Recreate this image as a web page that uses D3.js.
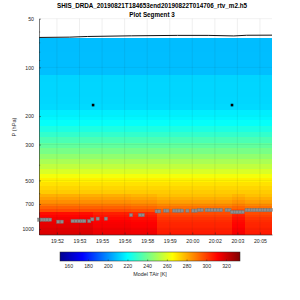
<!DOCTYPE html>
<html>
<head>
<meta charset="utf-8">
<script src="https://cdn.jsdelivr.net/npm/d3@7"></script>
<style>
  body { margin: 0; background: #fff; }
  svg { display: block; font-family: "Liberation Sans", Arial, Helvetica, sans-serif; }
</style>
</head>
<body>
<svg id="chart" width="300" height="300"></svg>
<script>
const TITLE = ['SHIS_DRDA_20190821T184653end20190822T014706_rtv_m2.h5', 'Plot Segment 3'];

// pressure levels (hPa) and temperature (K) of the reference profile
const levels = [66, 75, 85, 95, 105, 117, 130, 145, 160, 175, 190, 205, 220, 240, 260, 282, 305, 330, 355, 380,
    410, 440, 470, 500, 530, 560, 590, 620, 650, 680, 710, 740, 770, 800, 830, 860, 890, 920, 950, 980, 1010, 1040, 1080];
const tBase = [208.3, 208.3, 208.4, 208.5, 208.6, 212.5, 212.7, 212.8, 213, 213.5, 217, 218.5, 221, 225, 229, 233.5, 237.5, 241.5, 246, 250.5,
    254.5, 259, 264, 268, 271, 273, 275, 277, 280, 283, 287, 291, 295, 298, 300, 302, 303.5, 304.5, 305, 305.5, 306, 306.5, 307];

// time bands where the lower layers differ
const bandStarts = ['19:51:00', '19:54:31', '19:56:59', '19:58:40', '20:03:33', '20:04:24'];
const bandEnd = '20:06:09';
const bandMidShift = [3, 3, 2, 0, 2, 0];
const bandLowShift = [11, 8, 7, 0, 6, 0];

// gray markers
const dotTimes = ['19:51:01', '19:51:12', '19:51:22', '19:51:32', '19:51:43', '19:52:15', '19:52:29',
    '19:53:11', '19:53:24', '19:53:37', '19:53:48', '19:53:57', '19:54:16', '19:54:28', '19:54:49', '19:55:21',
    '19:56:59', '19:57:34', '19:57:45', '19:58:39', '19:58:49', '19:59:12', '19:59:21', '19:59:47', '19:59:57',
    '20:00:07', '20:00:18', '20:00:39', '20:01:02', '20:01:13', '20:01:25', '20:01:35', '20:01:54', '20:02:04',
    '20:02:15', '20:02:28', '20:02:40', '20:02:50', '20:03:12', '20:03:23', '20:03:33', '20:03:44', '20:03:54',
    '20:04:04', '20:04:15', '20:04:30', '20:04:40', '20:04:51', '20:05:01', '20:05:12', '20:05:22', '20:05:33',
    '20:05:43', '20:05:54', '20:06:04'];
const dotPressures = [874, 874, 874, 874, 874, 900, 900,
    892, 892, 892, 892, 892, 892, 870, 862, 862,
    819, 819, 819, 777, 777, 769, 769, 769, 769,
    769, 769, 769, 769, 769, 763, 763, 763, 763,
    763, 763, 763, 763, 763, 763, 785, 785, 785,
    785, 785, 763, 763, 763, 763, 763, 763, 763,
    763, 763, 763];

// black markers
const markTimes = ['19:54:31', '20:03:33'];
const markPressures = [171, 171];

// flight level line
const lineTimes = ['19:51:00', '19:53:00', '19:54:10', '19:57:00', '20:00:00', '20:02:00', '20:03:40', '20:04:30', '20:06:09'];
const linePressures = [65.3, 65.0, 64.4, 63.8, 63.4, 63.4, 63.9, 63.3, 63.2];

const xTickTimes = ['19:52:10', '19:53:38', '19:55:06', '19:56:34', '19:58:02', '19:59:30', '20:00:58', '20:02:26', '20:03:54', '20:05:22'];
const yTicks = [50, 100, 200, 300, 500, 700, 1000];
const yMinorTicks = [60, 70, 80, 90, 400, 600, 800, 900];
const cbTicks = [160, 180, 200, 220, 240, 260, 280, 300, 320];
const CB_LABEL = 'Model TAir [K]';
const Y_LABEL = 'P (hPa)';

const AXIS = '#262626';
const parse = d3.timeParse('%H:%M:%S');

const svg = d3.select('#chart');

const x = d3.scaleTime().domain([parse('19:51:00'), parse(bandEnd)]).range([39, 272]);
const y = d3.scaleLog().domain([50, 1080]).range([18.7, 234.5]);

// jet colormap
const jet = d3.scaleLinear()
    .domain([0, 0.125, 0.375, 0.625, 0.875, 1])
    .range(['#00008f', '#0000ff', '#00ffff', '#ffff00', '#ff0000', '#800000'])
    .clamp(true);
const cDomain = [151.6, 334.2];
const color = t => jet((t - cDomain[0]) / (cDomain[1] - cDomain[0]));

// cells
const edges = levels.map((p, i) => i === 0 ? p : Math.sqrt(levels[i - 1] * p));
edges.push(1080);

const cells = [];
bandStarts.forEach((s, j) => {
    const t0 = parse(s);
    const t1 = j < bandStarts.length - 1 ? parse(bandStarts[j + 1]) : parse(bandEnd);
    levels.forEach((p, i) => {
        const shift = p >= 800 ? bandLowShift[j] : (p >= 600 ? bandMidShift[j] : 0);
        cells.push({ t0, t1, top: edges[i], bottom: edges[i + 1], temp: tBase[i] + shift });
    });
});

const g = svg.append('g');
g.selectAll('rect.cell').data(cells).join('rect')
    .attr('class', 'cell')
    .attr('x', d => x(d.t0))
    .attr('width', d => x(d.t1) - x(d.t0) + 0.3)
    .attr('y', d => y(d.top))
    .attr('height', d => y(d.bottom) - y(d.top) + 0.3)
    .attr('fill', d => color(d.temp))
    .attr('shape-rendering', 'crispEdges');

// grid
g.selectAll('line.vgrid').data(xTickTimes).join('line')
    .attr('x1', d => x(parse(d))).attr('x2', d => x(parse(d)))
    .attr('y1', y(50)).attr('y2', y(1080))
    .attr('stroke', AXIS).attr('stroke-opacity', 0.13).attr('stroke-width', 0.6);
g.selectAll('line.hgrid').data(yTicks).join('line')
    .attr('x1', 39).attr('x2', 272)
    .attr('y1', d => y(d)).attr('y2', d => y(d))
    .attr('stroke', AXIS).attr('stroke-opacity', 0.1).attr('stroke-width', 0.6);

// flight level line
g.append('path')
    .datum(lineTimes.map((t, i) => [parse(t), linePressures[i]]))
    .attr('d', d3.line().x(d => x(d[0])).y(d => y(d[1])))
    .attr('fill', 'none').attr('stroke', '#111').attr('stroke-width', 1);

// gray markers
g.selectAll('rect.dot').data(dotTimes).join('rect')
    .attr('x', d => x(parse(d)) - 1.6)
    .attr('y', (d, i) => y(dotPressures[i]) - 1.6)
    .attr('width', 3.2).attr('height', 3.2)
    .attr('fill', '#8e8e8e').attr('stroke', '#707070').attr('stroke-width', 0.4);

// black markers
g.selectAll('rect.mark').data(markTimes).join('rect')
    .attr('x', d => x(parse(d)) - 1.3)
    .attr('y', (d, i) => y(markPressures[i]) - 1.3)
    .attr('width', 2.6).attr('height', 2.6)
    .attr('fill', '#000');

// axes
function styleAxis(sel) {
    sel.selectAll('path.domain').attr('stroke', AXIS).attr('stroke-width', 0.6);
    sel.selectAll('line').attr('stroke', AXIS).attr('stroke-width', 0.5);
    sel.selectAll('text').attr('fill', AXIS).attr('font-size', 5.2).attr('font-family', null);
}

const xAxis = svg.append('g').attr('transform', 'translate(0,' + y(1080) + ')')
    .call(d3.axisBottom(x).tickValues(xTickTimes.map(parse)).tickFormat(d3.timeFormat('%H:%M'))
        .tickSizeInner(-2).tickSizeOuter(0).tickPadding(5));
styleAxis(xAxis);

const yAxis = svg.append('g').attr('transform', 'translate(39,0)')
    .call(d3.axisLeft(y).tickValues(yTicks).tickFormat(d3.format('d'))
        .tickSizeInner(-2).tickSizeOuter(0).tickPadding(5));
styleAxis(yAxis);

const yMinor = svg.append('g').attr('transform', 'translate(39,0)')
    .call(d3.axisLeft(y).tickValues(yMinorTicks).tickFormat('').tickSizeInner(-1.2).tickSizeOuter(0));
yMinor.select('path.domain').remove();
styleAxis(yMinor);

svg.append('text')
    .attr('transform', 'translate(14,127) rotate(-90)')
    .attr('text-anchor', 'middle').attr('dominant-baseline', 'central')
    .attr('font-size', 5.6).attr('fill', AXIS)
    .text(Y_LABEL);

// title
svg.selectAll('text.title').data(TITLE).join('text')
    .attr('x', 152).attr('y', (d, i) => 8.2 + i * 8.6)
    .attr('text-anchor', 'middle')
    .attr('font-size', 6.3).attr('font-weight', 'bold').attr('fill', '#000')
    .text(d => d);

// colorbar
const cbX = d3.scaleLinear().domain(cDomain).range([60, 240]);
const defs = svg.append('defs');
const grad = defs.append('linearGradient').attr('id', 'jetGrad');
d3.range(0, 1.0001, 0.125 / 4).forEach(f => {
    grad.append('stop').attr('offset', f).attr('stop-color', jet(f));
});
svg.append('rect')
    .attr('x', 60).attr('y', 252).attr('width', 180).attr('height', 9)
    .attr('fill', 'url(#jetGrad)')
    .attr('stroke', AXIS).attr('stroke-width', 0.5);

const cbAxis = svg.append('g').attr('transform', 'translate(0,261)')
    .call(d3.axisBottom(cbX).tickValues(cbTicks).tickFormat(d3.format('d'))
        .tickSizeInner(-1.5).tickSizeOuter(0).tickPadding(3.6));
cbAxis.select('path.domain').remove();
styleAxis(cbAxis);

svg.append('text')
    .attr('x', 150).attr('y', 276)
    .attr('text-anchor', 'middle')
    .attr('font-size', 5.4).attr('fill', AXIS)
    .text(CB_LABEL);
</script>
</body>
</html>
